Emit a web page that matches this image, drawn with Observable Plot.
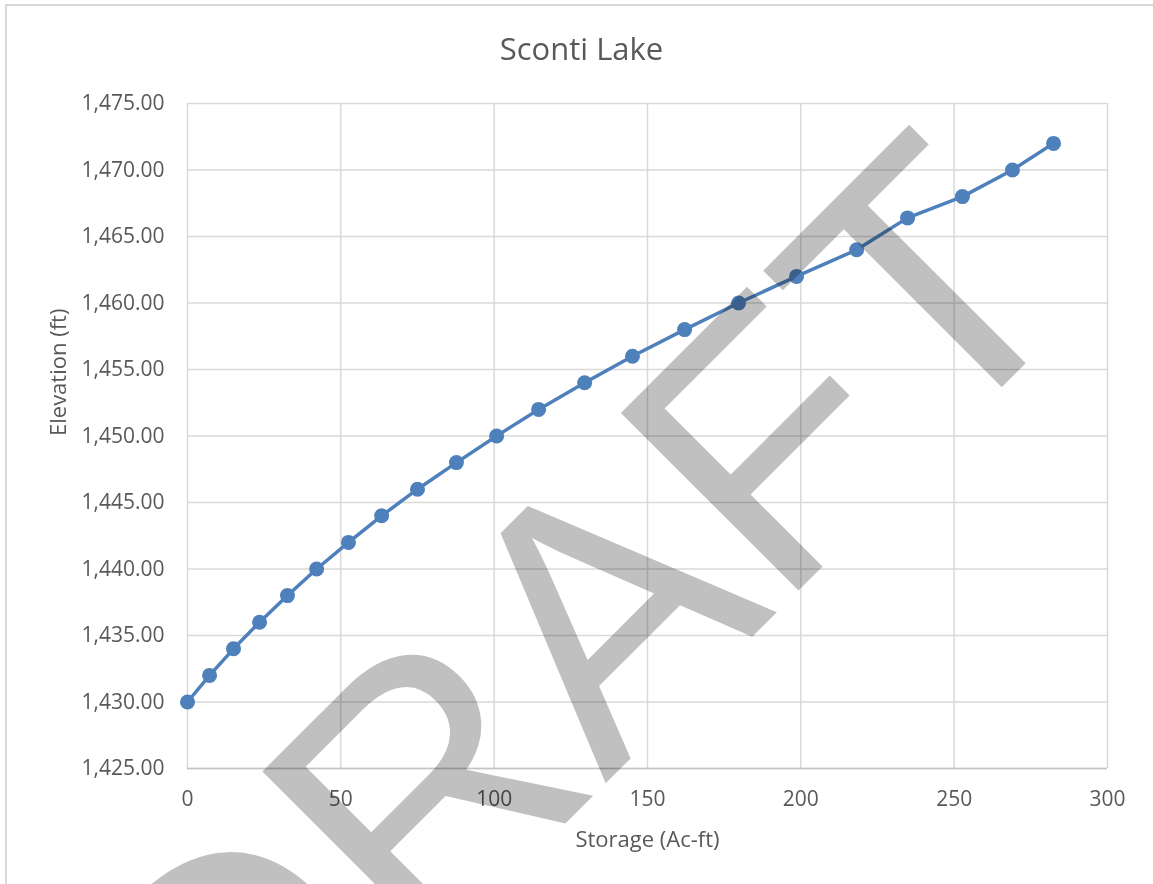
<!DOCTYPE html>
<html>
<head>
<meta charset="utf-8">
<script src="https://cdn.jsdelivr.net/npm/d3@7"></script>
<script src="https://cdn.jsdelivr.net/npm/@observablehq/plot@0.6"></script>
<style>
  html, body { margin: 0; padding: 0; background: #fff; }
  #wrap { position: relative; width: 1153px; height: 884px; overflow: hidden; background: #fff; font-family: "Open Sans", sans-serif; }
  #border { position: absolute; left: 5px; top: 4px; width: 1300px; height: 1000px; border-left: 2px solid #d9d9d9; border-top: 2px solid #d9d9d9; box-sizing: border-box; }
  #title { position: absolute; left: 5px; width: 1153px; top: 33px; text-align: center; font-size: 31px; line-height: 1; color: #595959; }
  #chart { position: absolute; left: 0; top: 80px; }
  #chart svg { overflow: visible; }
</style>
</head>
<body>
<div id="wrap">
  <div id="border"></div>
  <div id="title">Sconti Lake</div>
  <div id="chart"></div>
</div>
<script>
// Data
const storage = [0, 7.2, 15.0, 23.5, 32.6, 42.1, 52.5, 63.3, 75.0, 87.7, 100.8, 114.5, 129.5, 145.1, 162.1, 179.7, 198.6, 218.2, 234.8, 252.7, 269.0, 282.4];
const elevation = [1430, 1432, 1434, 1436, 1438, 1440, 1442, 1444, 1446, 1448, 1450, 1452, 1454, 1456, 1458, 1460, 1462, 1464, 1466.4, 1468, 1470, 1472];
const xTicks = [0, 50, 100, 150, 200, 250, 300];
const yTicks = [1425, 1430, 1435, 1440, 1445, 1450, 1455, 1460, 1465, 1470, 1475];
const xTitle = "Storage (Ac-ft)";
const yTitle = "Elevation (ft)";
const watermark = "DRAFT";

const data = storage.map((s, i) => ({storage: s, elevation: elevation[i]}));

const lineColor = "#4e80bc";
const textColor = "#595959";
const gridColor = "#d9d9d9";

const chart = Plot.plot({
  width: 1153,
  height: 804,
  marginTop: 23,
  marginBottom: 116,
  marginLeft: 187,
  marginRight: 46,
  style: {fontFamily: "'Open Sans', sans-serif", background: "transparent", color: textColor},
  x: {domain: [0, 300]},
  y: {domain: [1425, 1475]},
  marks: [
    Plot.gridX(xTicks, {stroke: gridColor, strokeOpacity: 1, strokeWidth: 1.5}),
    Plot.gridY(yTicks, {stroke: gridColor, strokeOpacity: 1, strokeWidth: 1.5}),
    Plot.ruleY([1425], {stroke: "#c4c4c4", strokeWidth: 1.5}),
    Plot.axisX(xTicks, {tickSize: 0, tickPadding: 23, fontSize: 21, fill: textColor, tickFormat: d3.format("d"), label: null}),
    Plot.axisY(yTicks, {tickSize: 0, tickPadding: 23, fontSize: 21, fill: textColor, tickFormat: d3.format(",.2f"), label: null}),
    Plot.text([xTitle], {text: d => d, frameAnchor: "bottom", dy: 78, lineAnchor: "bottom", fontSize: 22, fill: textColor}),
    Plot.text([yTitle], {text: d => d, frameAnchor: "left", dx: -129, rotate: -90, lineAnchor: "middle", fontSize: 22, fill: textColor}),
    Plot.line(data, {x: "storage", y: "elevation", stroke: lineColor, strokeWidth: 3.5}),
    Plot.dot(data, {x: "storage", y: "elevation", r: 7.5, fill: lineColor, stroke: "none"}),
    Plot.text([watermark], {text: d => d, frameAnchor: "top-left", dx: 475, dy: 623, rotate: -45, textAnchor: "middle", lineAnchor: "bottom", fontSize: 365, fontFamily: "Liberation Sans", fill: "#c0c0c0", mixBlendMode: "multiply"})
  ]
});
document.getElementById("chart").appendChild(chart);
</script>
</body>
</html>
